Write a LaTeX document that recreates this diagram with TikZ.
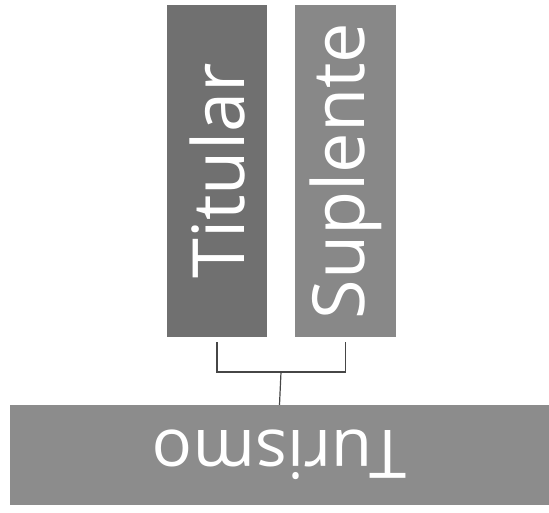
\documentclass[tikz,border=0pt]{standalone}
\usepackage{fontspec}
\setmainfont{Open Sans}
\usepackage{xcolor}
\usepackage{tikz}
\usetikzlibrary{positioning,calc}
\definecolor{darkbox}{RGB}{112,112,112}
\definecolor{lightbox}{RGB}{136,136,136}
\definecolor{basebox}{RGB}{140,140,140}
\definecolor{linkclr}{RGB}{70,70,70}
\tikzset{
    box/.style={rectangle,fill=darkbox,text=white,inner sep=0pt,
                font=\fontsize{72}{76}\selectfont},
    upright/.style={box,rotate=90,minimum width=332pt,minimum height=100pt},
    flipped/.style={box,fill=basebox,rotate=180,minimum width=539pt,
                    minimum height=100pt,font=\fontsize{67}{70}\selectfont},
    link/.style={draw=linkclr,line width=1.2pt},
}

\begin{document}
\begin{tikzpicture}[x=1pt,y=-1pt]
\useasboundingbox (0,0) rectangle (549,513);
\node[upright] (Tit) at (217,171) {Titular};
\node[upright,fill=lightbox,minimum height=101pt] (Sup) at (345.5,171) {Suplente};
\node[flipped] (Tur) at (279.5,455) {Turismo};

% rotated nodes: west is the lower edge of the columns, south the top of the base
\coordinate (jn) at (281,372);
\draw[link] ([yshift=-5pt]Tit.west) |- (jn) -| ([yshift=-5pt]Sup.west);
\draw[link] (jn) -- (Tur.south);
\end{tikzpicture}
\end{document}
